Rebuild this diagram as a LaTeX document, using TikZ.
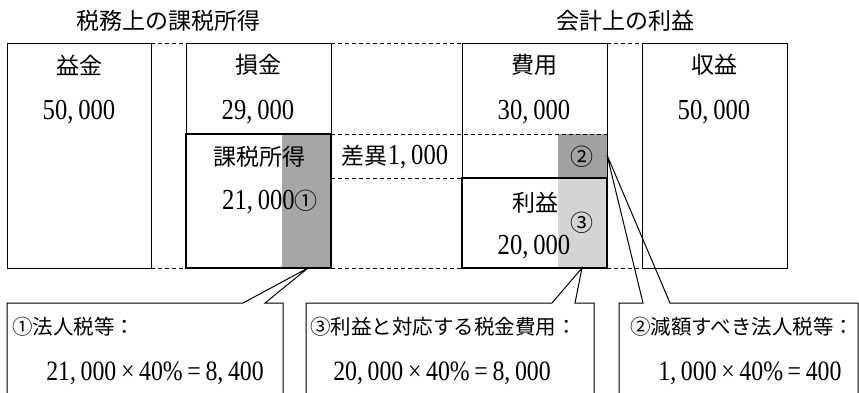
\documentclass[tikz,border=0pt]{standalone}
\usepackage{fontspec}
\newfontfamily\cjk{Noto Sans CJK JP}
\newfontfamily\numf[FakeStretch=0.85]{Liberation Serif}
\begin{document}
\begin{tikzpicture}[x=1pt,y=-1pt,
  box/.style={draw, line width=1pt, inner sep=0pt, outer sep=0pt, anchor=north west},
  thickbox/.style={draw, line width=2.4pt, inner sep=0pt, outer sep=0pt, anchor=north west},
  frame/.style={inner sep=0pt, outer sep=0pt, anchor=north west},
  dsh/.style={line width=0.8pt, dash pattern=on 4pt off 3pt},
  call/.style={line width=1pt, line join=miter},
  txt/.style={inner sep=0pt, font=\fontsize{23}{27}\selectfont},
  num/.style={inner sep=0pt, font=\fontsize{29}{32}\selectfont\numf},
  ctxt/.style={inner sep=0pt, anchor=west, font=\fontsize{20.5}{24}\selectfont\cjk},
  ftxt/.style={inner sep=0pt, font=\fontsize{28}{32}\selectfont\numf}]
\useasboundingbox (0,0) rectangle (859,392);
\clip (0,0) rectangle (859,392);
% grey areas
\fill[black!35] (282,134) rectangle (331,268);
\fill[black!37] (558,134) rectangle (607,178);
\fill[black!17] (558,178) rectangle (607,268);
% boxes
\node[box, minimum width=144, minimum height=225] (ekikin) at (7,43) {};
\node[box, minimum width=145, minimum height=91] (sonkin) at (186,43) {};
\node[box, minimum width=145, minimum height=135] (hiyou) at (462,43) {};
\node[box, minimum width=145, minimum height=225] (shueki) at (642,43) {};
\node[thickbox, minimum width=145, minimum height=134] (kazei) at (186,134) {};
\node[thickbox, minimum width=145, minimum height=90] (rieki) at (462,178) {};
% dashed guide lines
\draw[dsh] (ekikin.north east) -- (sonkin.north west);
\draw[dsh] (sonkin.north east) -- (hiyou.north west);
\draw[dsh] (hiyou.north east) -- (shueki.north west);
\draw[dsh] (kazei.north east) -- (hiyou.east |- kazei.north east);
\draw[dsh] (kazei.east |- rieki.north west) -- (rieki.north west);
\draw[dsh] (ekikin.south east) -- (kazei.south west);
\draw[dsh] (kazei.south east) -- (rieki.south west);
\draw[dsh] (rieki.south east) -- (shueki.south west);
% titles
\node[txt] (t1) at (168,21) {\cjk 税務上の課税所得};
\node[txt] (t2) at (625,21) {\cjk 会計上の利益};
% box texts
\node[txt] (l1) at (79,65) {\cjk 益金};
\node[num] (n1) at (79,112) {50,\,000};
\node[txt] (l2) at (258,65) {\cjk 損金};
\node[num] (n2) at (258,112) {29,\,000};
\node[txt] (l3) at (534,65) {\cjk 費用};
\node[num] (n3) at (534,112) {30,\,000};
\node[txt] (l4) at (714,65) {\cjk 収益};
\node[num] (n4) at (714,112) {50,\,000};
\node[txt] (l5) at (259,157) {\cjk 課税所得};
\node[num] (n5) at (270,202) {21,\,000{\fontsize{23}{27}\selectfont\cjk ①}};
\node[num] (d1) at (395,157) {{\fontsize{23}{27}\selectfont\cjk 差異}1,\,000};
\node[txt] (c2m) at (582,157) {\cjk ②};
\node[txt] (l6) at (535,203) {\cjk 利益};
\node[txt] (c3m) at (582,223) {\cjk ③};
\node[num] (n6) at (534,247) {20,\,000};
% callout boxes
\node[frame, minimum width=276, minimum height=120] (cb1) at (7,303) {};
\node[frame, minimum width=288, minimum height=120] (cb2) at (306,303) {};
\node[frame, minimum width=239, minimum height=120] (cb3) at (619,303) {};
\coordinate (tip1) at (308,268);
\coordinate (tip2) at (582,268);
\coordinate (tip3) at (607,155);
\fill[white] (243,303) -- (tip1) -- (265,303) -- cycle;
\fill[white] (552,303) -- (tip2) -- (575,303) -- cycle;
\draw[call] (cb1.south west) -- (cb1.north west) -- (243,303) -- (tip1) -- (265,303) -- (cb1.north east) -- (cb1.south east);
\draw[call] (cb2.south west) -- (cb2.north west) -- (552,303) -- (tip2) -- (575,303) -- (cb2.north east) -- (cb2.south east);
\draw[call] (cb3.south west) -- (cb3.north west) -- (643,303) -- (tip3) -- (670,303) -- (cb3.north east) -- (cb3.south east);
% callout texts
\node[ctxt] (a1) at (12,327) {①法人税等：};
\node[ftxt] (b1) at (155,373) {21,\,000\,×\,40\%\,=\,8,\,400};
\node[ctxt] (a2) at (310,327) {③利益と対応する税金費用：};
\node[ftxt] (b2) at (442,373) {20,\,000\,×\,40\%\,=\,8,\,000};
\node[ctxt] (a3) at (630,327) {②減額すべき法人税等：};
\node[ftxt] (b3) at (750,373) {1,\,000\,×\,40\%\,=\,400};
\end{tikzpicture}
\end{document}
